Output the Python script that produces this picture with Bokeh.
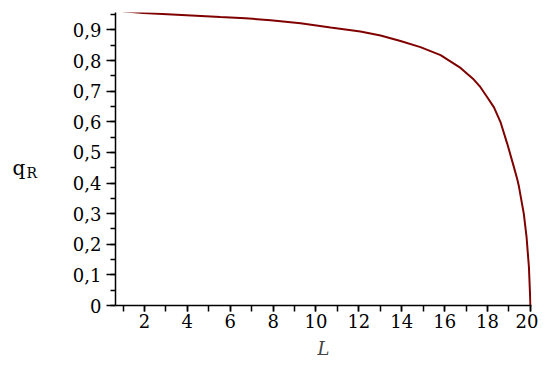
from bokeh.plotting import figure
from bokeh.layouts import row
from bokeh.models import SingleIntervalTicker, CustomJSTickFormatter, Range1d
from bokeh.core.properties import value
from bokeh.embed import file_html
from bokeh.resources import INLINE

# Data
L_vals = [1.0, 1.95, 3.96, 5.54, 6.71, 7.88, 9.28, 10.68, 12.07, 13.01, 13.94, 14.87,
          15.81, 16.74, 17.36, 17.67, 17.98, 18.3, 18.6, 18.92, 19.23, 19.38, 19.46,
          19.69, 19.82, 19.93, 19.98, 20.0]
qR_vals = [0.961, 0.955, 0.948, 0.942, 0.938, 0.932, 0.922, 0.908, 0.895, 0.882, 0.864,
           0.844, 0.818, 0.776, 0.738, 0.713, 0.681, 0.647, 0.600, 0.528, 0.452, 0.414,
           0.39, 0.30, 0.223, 0.125, 0.04, 0.0]

FONT = "DejaVu Serif"
TOTAL_W, TOTAL_H = 538, 363
LBL_W = 60
TOP, BOTTOM = 12, 58
Y_MAX = 0.957

# --- side strip holding the y-axis title "q_R" (frame aligned with main chart) ---
lab = figure(width=LBL_W, height=TOTAL_H, output_backend="svg", toolbar_location=None,
             x_range=Range1d(0, LBL_W), y_range=Range1d(0, Y_MAX),
             x_axis_type=None, y_axis_type=None,
             min_border_left=0, min_border_right=0,
             min_border_top=TOP, min_border_bottom=BOTTOM)
lab.outline_line_color = None
lab.grid.visible = False
lab.text(x=[12], y=[0.448], text=["q"], text_font=value(FONT),
         text_font_size="20px", text_color="black", text_baseline="alphabetic")
lab.text(x=[26], y=[0.434], text=["R"], text_font=value(FONT),
         text_font_size="14px", text_color="black", text_baseline="alphabetic")

# --- main chart ---
p = figure(width=TOTAL_W - LBL_W, height=TOTAL_H, output_backend="svg",
           toolbar_location=None,
           x_range=Range1d(0.65, 20.05), y_range=Range1d(0, Y_MAX),
           min_border_left=115 - LBL_W, min_border_right=7, min_border_top=TOP,
           min_border_bottom=BOTTOM)
p.outline_line_color = None
p.grid.visible = False
p.background_fill_color = "white"

p.line(L_vals, qR_vals, line_color="#800000", line_width=2)

# x axis
xa = p.xaxis[0]
xa.ticker = SingleIntervalTicker(interval=2, num_minor_ticks=2)
xa.axis_label = "L"
xa.axis_label_text_font = FONT
xa.axis_label_text_font_style = "italic"
xa.axis_label_text_font_size = "18px"
xa.axis_label_standoff = 7
xa.major_tick_out = 6
xa.minor_tick_out = 6
xa.major_label_standoff = 2

# y axis
ya = p.yaxis[0]
ya.ticker = SingleIntervalTicker(interval=0.1, num_minor_ticks=2)
ya.formatter = CustomJSTickFormatter(
    code="if (Math.abs(tick) < 1e-9) { return '0'; } return tick.toFixed(1).replace('.', ',');")
ya.major_tick_out = 9
ya.minor_tick_out = 5
ya.major_label_standoff = 5

for ax in (xa, ya):
    ax.axis_line_color = "black"
    ax.axis_line_width = 1.5
    ax.major_tick_line_color = "black"
    ax.minor_tick_line_color = "black"
    ax.major_tick_line_width = 1.5
    ax.minor_tick_line_width = 1.5
    ax.major_tick_in = 0
    ax.minor_tick_in = 0
    ax.major_label_text_font = FONT
    ax.major_label_text_font_size = "18px"
    ax.major_label_text_color = "black"

layout = row(lab, p, spacing=0)
open("out.html", "w").write(file_html(layout, INLINE))
